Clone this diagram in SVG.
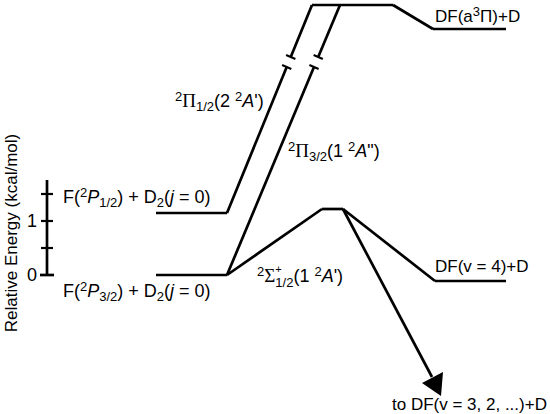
<svg xmlns="http://www.w3.org/2000/svg" width="550" height="414" viewBox="0 0 550 414">
<style>
  .ln { fill: none; stroke: #000; stroke-width: 2.7; stroke-linejoin: miter; stroke-linecap: butt; }
  .tk { fill: none; stroke: #000; stroke-width: 2.2; }
  .t { font-family: "Liberation Sans", Arial, sans-serif; font-size: 17px; fill: #000; }
  .b { font-size: 18px; }
  .s { font-size: 13px; }
  .p { font-size: 11px; }
  .i { font-style: italic; }
  .g { font-family: "Liberation Serif", "DejaVu Serif", serif; font-size: 19px; }
</style>
<rect width="550" height="414" fill="#fff"/>

<g id="axis">
  <line class="ln" x1="47" y1="180" x2="47" y2="276" stroke-width="3"/>
  <line class="tk" x1="41" y1="194" x2="53" y2="194"/>
  <line class="tk" x1="41" y1="221" x2="53" y2="221"/>
  <line class="tk" x1="41" y1="248" x2="53" y2="248"/>
  <line class="ln" x1="40" y1="275" x2="54" y2="275" stroke-width="3"/>
  <text class="t b" x="37" y="227" text-anchor="end">1</text>
  <text class="t b" x="37" y="281" text-anchor="end">0</text>
  <text class="t" transform="translate(17,233) rotate(-90)" text-anchor="middle">Relative Energy (kcal/mol)</text>
</g>

<g id="level-F-P12">
  <line class="ln" x1="156" y1="213" x2="227" y2="213"/>
  <text class="t b" x="63" y="202.5">F(<tspan class="s" dy="-6">2</tspan><tspan class="i" dy="6">P</tspan><tspan class="s" dy="4">1/2</tspan><tspan dy="-4">) + D</tspan><tspan class="s" dy="4">2</tspan><tspan dy="-4">(</tspan><tspan class="i">j</tspan> = 0)</text>
</g>

<g id="level-F-P32">
  <line class="ln" x1="156" y1="275" x2="227" y2="275"/>
  <text class="t b" x="63" y="297">F(<tspan class="s" dy="-6">2</tspan><tspan class="i" dy="6">P</tspan><tspan class="s" dy="4">3/2</tspan><tspan dy="-4">) + D</tspan><tspan class="s" dy="4">2</tspan><tspan dy="-4">(</tspan><tspan class="i">j</tspan> = 0)</text>
</g>

<g id="level-top">
  <line class="ln" x1="312" y1="5" x2="393" y2="5"/>
</g>

<g id="level-DF-a3Pi">
  <line class="ln" x1="433" y1="29" x2="506" y2="29"/>
  <text class="t" x="435" y="22">DF(a<tspan class="s" dy="-6">3</tspan><tspan dy="6">Π)+D</tspan></text>
</g>

<g id="level-barrier">
  <line class="ln" x1="322" y1="209" x2="343" y2="209"/>
</g>

<g id="level-DF-v4">
  <line class="ln" x1="435" y1="281" x2="506" y2="281"/>
  <text class="t" x="435" y="272">DF(v = 4)+D</text>
</g>

<g id="level-DF-lower">
  <text class="t" x="392" y="410">to DF(v = 3, 2, ...)+D</text>
</g>

<g id="connectors">
  <polyline class="ln" points="227,213 286.7,67"/>
  <polyline class="ln" points="290.75,57 312,5"/>
  <line class="tk" x1="286.1" y1="55.1" x2="295.4" y2="58.9"/>
  <line class="tk" x1="282.1" y1="65.1" x2="291.3" y2="68.9"/>

  <polyline class="ln" points="227,275 314,67"/>
  <polyline class="ln" points="318.2,57 340,5"/>
  <line class="tk" x1="313.6" y1="55.1" x2="322.8" y2="58.9"/>
  <line class="tk" x1="309.4" y1="65.1" x2="318.6" y2="68.9"/>

  <polyline class="ln" points="393,5 433,29"/>
  <polyline class="ln" points="227,275 322,209"/>
  <polyline class="ln" points="343,209 435,281"/>
  <line class="ln" x1="343" y1="209" x2="432" y2="377"/>
  <polygon points="441,396 422,383 443,372" fill="#000"/>

  <text class="t b" x="175" y="107"><tspan class="s" dy="-6">2</tspan><tspan class="g" dy="6">Π</tspan><tspan class="s" dy="4">1/2</tspan><tspan dy="-4">(2 </tspan><tspan class="s" dy="-6">2</tspan><tspan class="i" dy="6">A</tspan>')</text>
  <text class="t b" x="288" y="157"><tspan class="s" dy="-6">2</tspan><tspan class="g" dy="6">Π</tspan><tspan class="s" dy="4">3/2</tspan><tspan dy="-4">(1  </tspan><tspan class="s" dy="-6">2</tspan><tspan class="i" dy="6">A</tspan>")</text>
  <text class="t b" x="257" y="282"><tspan class="s" dy="-6">2</tspan><tspan class="g" dy="6">Σ</tspan><tspan class="p" dy="-9.5">+</tspan><tspan class="s" dx="-6.4" dy="14.5">1/2</tspan><tspan dy="-5">(1 </tspan><tspan class="s" dy="-6">2</tspan><tspan class="i" dy="6">A</tspan>')</text>
</g>
</svg>
